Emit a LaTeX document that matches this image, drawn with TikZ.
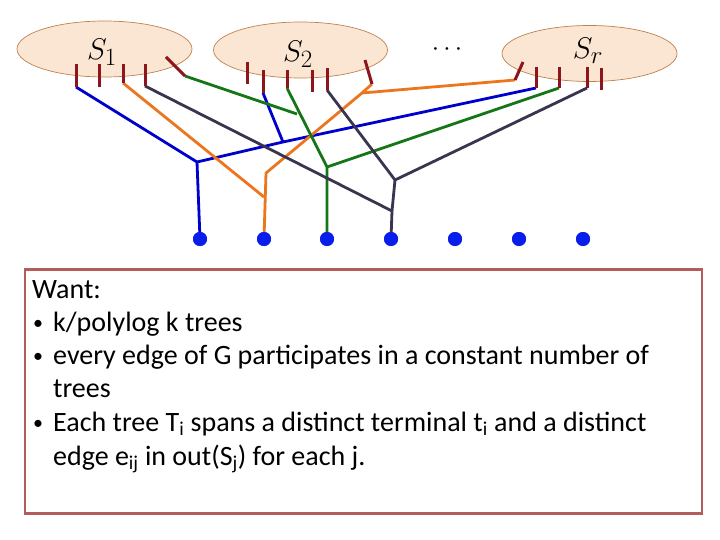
\documentclass[tikz,border=0pt]{standalone}
\usepackage{fontspec}
\setmainfont{Carlito}
\usetikzlibrary{shapes.geometric}
\begin{document}
\begin{tikzpicture}[x=1pt,y=-1pt,
  setell/.style={draw=ellborder,fill=ellfill,line width=0.7pt,ellipse,minimum width=174pt,minimum height=56pt,inner sep=0pt},
  tick/.style={draw=tickred,line width=3pt},
  wire/.style={line width=2.8pt,line join=round},
  bluew/.style={wire,draw=wblue},
  orangew/.style={wire,draw=worange},
  greenw/.style={wire,draw=wgreen},
  darkw/.style={wire,draw=wdark},
  term/.style={circle,fill=dotblue,inner sep=0pt,minimum size=14pt},
  slab/.style={inner sep=0pt},
  txt/.style={anchor=base west,inner sep=0pt,font=\fontsize{28}{33}\selectfont},
  bul/.style={anchor=base west,inner sep=0pt,font=\fontsize{20}{24}\selectfont}
]
\definecolor{ellfill}{RGB}{251,229,211}
\definecolor{ellborder}{RGB}{190,130,80}
\definecolor{tickred}{RGB}{140,22,28}
\definecolor{wblue}{RGB}{0,0,205}
\definecolor{worange}{RGB}{235,118,30}
\definecolor{wgreen}{RGB}{20,118,22}
\definecolor{wdark}{RGB}{58,52,78}
\definecolor{dotblue}{RGB}{10,30,235}
\definecolor{boxred}{RGB}{178,92,92}
\useasboundingbox (0,0) rectangle (720,540);
% sets
\node[setell,minimum width=175pt] (S1) at (104.5,49) {};
\node[setell] (S2) at (300.5,50) {};
\node[setell,minimum width=175pt] (Sr) at (589.5,53.5) {};
\node[slab] (l1) at (102,52) {\scalebox{1.2}{\Huge $S_1$}};
\node[slab] (l2) at (298,54) {\scalebox{1.2}{\Huge $S_2$}};
\node[slab] (lr) at (588,51) {\scalebox{1.2}{\Huge $S_r$}};
\node[slab] (dots) at (447,50) {\scalebox{1.05}{\Huge $\cdots$}};
% tick coordinates
\coordinate (a11) at (76,64);  \coordinate (b11) at (76,87);
\coordinate (a12) at (99,64);  \coordinate (b12) at (99,87);
\coordinate (a13) at (123,64); \coordinate (b13) at (123,83);
\coordinate (a14) at (145,64); \coordinate (b14) at (145,86);
\coordinate (a15) at (166,57); \coordinate (b15) at (185,76);
\coordinate (a21) at (247,62); \coordinate (b21) at (247,84);
\coordinate (a22) at (263,70); \coordinate (b22) at (263,93);
\coordinate (a23) at (287,70); \coordinate (b23) at (287,88);
\coordinate (a24) at (312,70); \coordinate (b24) at (312,92);
\coordinate (a25) at (327,68); \coordinate (b25) at (327,90);
\coordinate (a26) at (365,60); \coordinate (b26) at (372,84);
\coordinate (a31) at (523,62); \coordinate (b31) at (515,80);
\coordinate (a32) at (536,67); \coordinate (b32) at (536,88);
\coordinate (a33) at (559,67); \coordinate (b33) at (559,88);
\coordinate (a34) at (587,67); \coordinate (b34) at (587,88);
\coordinate (a35) at (601,68); \coordinate (b35) at (601,90);
% junctions
\coordinate (B1) at (197,162); \coordinate (B2) at (283,142);
\coordinate (O1) at (264,197); \coordinate (O2) at (266,173); \coordinate (O3) at (362,93);
\coordinate (Gend) at (297,114); \coordinate (G1) at (327,167);
\coordinate (D1) at (392,211); \coordinate (D2) at (395,180);
% terminals
\node[term] (T1) at (200,239) {};
\node[term] (T2) at (264,239) {};
\node[term] (T3) at (327,239) {};
\node[term] (T4) at (391,239) {};
\node[term] (T5) at (455,239) {};
\node[term] (T6) at (519,239) {};
\node[term] (T7) at (583,239) {};
% wires
\draw[bluew] (b11) -- (B1) -- (T1.center);
\draw[bluew] (B1) -- (B2) -- (b32);
\draw[bluew] (B2) -- (b22);
\draw[orangew] (b13) -- (O1);
\draw[orangew] (T2.center) -- (O2) -- (O3) -- (b26);
\draw[orangew] (O3) -- (b31);
\draw[greenw] (b15) -- (Gend);
\draw[greenw] (b23) -- (G1) -- (T3.center);
\draw[greenw] (G1) -- (b33);
\draw[darkw] (b14) -- (D1) -- (T4.center);
\draw[darkw] (D1) -- (D2) -- (b34);
\draw[darkw] (D2) -- (b25);
% ticks
\foreach \t in {11,12,13,14,15,21,22,23,24,25,26,31,32,33,34,35}
  \draw[tick] (a\t) -- (b\t);
% terminals on top of wires
\foreach \n in {1,...,7} \fill[dotblue] (T\n) circle (7pt);
% text box
\node[draw=boxred,line width=2.5pt,minimum width=677pt,minimum height=244pt,anchor=north west,inner sep=0pt] (box) at (23.5,268) {};
\node[txt] (w) at (32,298) {Want:};
\node[bul] (bu1) at (33,329) {•};
\node[txt] (i1) at (53,331) {k/polylog k trees};
\node[bul] (bu2) at (33,362) {•};
\node[txt] (i2) at (53,364) {every edge of G participates in a constant number of};
\node[txt] (i2c) at (53,397) {trees};
\node[bul] (bu3) at (33,429) {•};
\node[txt] (i3) at (53,431) {Each tree T\textsubscript{i} spans a distinct terminal t\textsubscript{i} and a distinct};
\node[txt] (i3c) at (53,465) {edge e\textsubscript{ij} in out(S\textsubscript{j}) for each j.};
\end{tikzpicture}
\end{document}
